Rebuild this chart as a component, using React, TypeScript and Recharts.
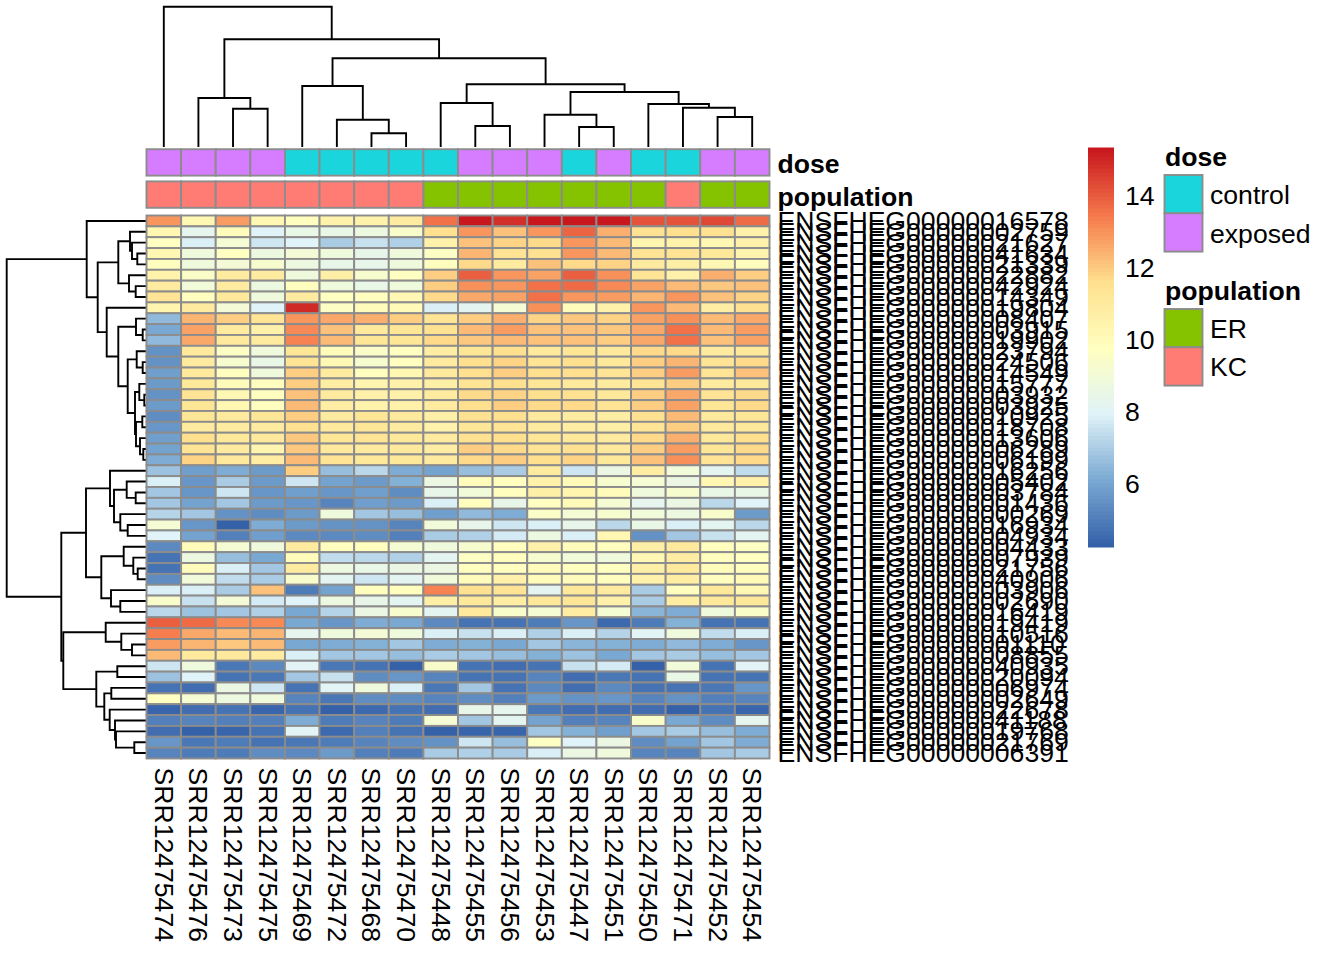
import React from "react";
import { ScatterChart, Scatter, XAxis, YAxis } from "recharts";

const W = 1344;
const H = 960;
const FONT = "'Liberation Sans', Arial, sans-serif";
const BORDER = "#8c8c8c";
const TEXT_SIZE = 26.6;

const samples = ["SRR12475474", "SRR12475476", "SRR12475473", "SRR12475475", "SRR12475469", "SRR12475472", "SRR12475468", "SRR12475470", "SRR12475448", "SRR12475455", "SRR12475456", "SRR12475453", "SRR12475447", "SRR12475451", "SRR12475450", "SRR12475471", "SRR12475452", "SRR12475454"];

const geneIds = ["16578", "02759", "21627", "41634", "21339", "22882", "42924", "14349", "19804", "08407", "03915", "19902", "23794", "24506", "14549", "15777", "03932", "03925", "10925", "18708", "13606", "06289", "06199", "16256", "05402", "03784", "01436", "00269", "16934", "04934", "04433", "07939", "21756", "40906", "03906", "02690", "16419", "19419", "10516", "01110", "08855", "40935", "20094", "06974", "02649", "22678", "41188", "19768", "21769", "06391"];

const expression = [
  [12.9, 10.3, 12.8, 10.3, 9.9, 10.5, 10.5, 10.9, 13.6, 15.3, 14.8, 15.3, 15.3, 15.3, 14.2, 14.2, 14.4, 13.7],
  [10.3, 8.3, 10.0, 8.0, 8.5, 8.5, 8.7, 9.4, 11.6, 12.9, 12.2, 13.0, 13.8, 12.5, 11.5, 11.6, 11.5, 10.6],
  [9.7, 7.9, 9.2, 7.6, 8.0, 7.0, 7.5, 7.1, 10.6, 12.2, 11.8, 11.7, 12.9, 12.3, 10.4, 10.5, 10.3, 10.6],
  [10.3, 8.9, 9.7, 8.7, 9.1, 8.8, 8.4, 8.9, 9.6, 12.4, 11.4, 11.5, 12.9, 12.3, 11.4, 11.4, 11.2, 10.4],
  [9.9, 8.8, 9.1, 9.3, 8.7, 8.4, 8.4, 8.8, 9.9, 11.7, 10.9, 12.2, 11.7, 11.8, 10.9, 10.7, 10.2, 9.8],
  [10.5, 9.5, 10.9, 10.9, 8.8, 10.7, 9.3, 9.7, 11.9, 13.9, 13.0, 12.7, 13.9, 13.1, 11.4, 10.6, 12.5, 12.0],
  [11.0, 9.0, 10.9, 8.7, 9.8, 8.9, 8.5, 8.9, 12.0, 13.1, 13.0, 13.6, 13.7, 13.2, 12.7, 12.3, 12.1, 12.2],
  [11.4, 9.8, 11.2, 8.9, 11.0, 9.7, 9.8, 10.2, 11.7, 12.6, 12.7, 13.6, 13.0, 12.8, 12.4, 13.0, 12.2, 11.8],
  [10.4, 11.0, 9.1, 8.0, 14.9, 9.6, 10.0, 10.1, 7.9, 8.2, 9.2, 13.1, 10.0, 10.6, 13.0, 12.3, 10.8, 11.5],
  [6.5, 12.4, 11.9, 11.4, 12.9, 12.6, 12.5, 11.9, 11.4, 12.0, 12.5, 11.8, 12.1, 11.8, 12.7, 13.1, 12.3, 12.6],
  [6.1, 12.7, 11.0, 10.6, 13.2, 12.2, 11.1, 11.3, 11.5, 12.3, 12.8, 12.2, 12.2, 12.1, 12.6, 13.6, 12.3, 12.8],
  [6.5, 12.6, 11.1, 10.9, 13.3, 12.3, 11.3, 11.3, 11.7, 12.1, 12.3, 12.2, 12.2, 12.0, 12.6, 13.6, 12.2, 12.7],
  [5.5, 11.1, 9.6, 8.9, 11.3, 10.0, 9.5, 9.7, 10.8, 11.3, 11.6, 11.1, 11.3, 11.1, 11.7, 11.7, 11.0, 11.2],
  [5.5, 11.0, 9.3, 8.5, 11.4, 10.2, 9.3, 9.8, 10.9, 11.6, 11.8, 11.4, 11.6, 11.2, 12.0, 12.4, 11.4, 11.7],
  [5.9, 11.1, 9.9, 8.9, 12.0, 10.9, 9.9, 10.3, 11.1, 11.6, 12.0, 11.6, 11.6, 11.4, 12.0, 12.8, 11.4, 12.2],
  [5.7, 11.2, 10.0, 9.8, 11.9, 10.8, 10.4, 10.6, 10.7, 11.4, 11.6, 11.3, 11.1, 11.0, 11.4, 12.0, 10.9, 11.2],
  [5.5, 11.4, 10.2, 9.9, 12.2, 11.0, 10.6, 10.6, 11.0, 11.7, 11.8, 11.6, 11.5, 11.2, 12.0, 12.6, 11.4, 11.7],
  [5.8, 11.3, 10.3, 9.9, 12.3, 10.8, 10.5, 10.6, 10.9, 11.6, 12.0, 11.7, 11.7, 11.4, 11.9, 12.7, 11.3, 11.7],
  [5.4, 11.3, 11.1, 11.3, 12.0, 11.0, 11.3, 11.1, 10.7, 11.5, 11.6, 11.1, 11.0, 10.8, 11.5, 12.3, 11.1, 11.3],
  [5.6, 11.0, 11.0, 11.0, 11.5, 11.1, 11.3, 11.0, 10.5, 11.3, 11.4, 11.0, 10.8, 10.7, 11.4, 12.0, 11.1, 11.2],
  [5.9, 11.6, 11.2, 11.1, 12.1, 11.3, 11.4, 11.2, 10.9, 11.5, 11.6, 11.3, 11.2, 11.0, 11.7, 12.5, 11.2, 11.6],
  [6.0, 11.4, 10.9, 10.4, 12.1, 11.1, 11.0, 11.1, 10.8, 12.0, 11.7, 11.4, 11.5, 11.1, 12.0, 12.8, 11.3, 11.7],
  [6.2, 11.8, 11.1, 10.8, 12.3, 11.4, 11.2, 11.2, 10.9, 11.7, 12.0, 11.6, 11.8, 11.2, 12.2, 13.1, 11.4, 11.7],
  [6.7, 5.9, 6.2, 5.7, 11.9, 6.6, 7.3, 6.2, 6.0, 6.6, 7.0, 11.0, 7.6, 8.6, 10.8, 9.0, 8.2, 7.4],
  [7.8, 5.6, 7.0, 5.8, 7.6, 6.0, 5.7, 6.3, 8.6, 10.0, 9.9, 10.6, 10.1, 9.3, 9.2, 8.6, 10.3, 10.6],
  [6.8, 5.6, 7.6, 5.6, 5.9, 5.6, 5.9, 5.4, 8.4, 9.0, 9.9, 10.7, 10.4, 10.0, 8.8, 9.3, 8.5, 8.5],
  [6.8, 6.0, 6.9, 5.7, 5.6, 5.2, 5.9, 5.7, 7.8, 9.9, 8.4, 9.7, 10.1, 9.2, 8.3, 8.6, 7.3, 8.0],
  [7.2, 6.8, 5.5, 5.4, 5.8, 8.9, 6.9, 6.6, 5.9, 6.5, 6.2, 9.5, 9.2, 9.3, 9.0, 8.7, 9.4, 5.8],
  [9.2, 5.6, 4.3, 6.2, 5.8, 5.5, 5.5, 5.2, 9.0, 8.4, 7.6, 7.8, 8.4, 7.3, 8.5, 7.8, 8.2, 7.3],
  [8.0, 6.0, 5.1, 5.9, 5.3, 5.3, 5.4, 5.1, 7.0, 7.1, 7.7, 8.7, 7.9, 10.3, 5.5, 6.9, 7.5, 8.2],
  [5.3, 10.0, 9.2, 8.9, 11.0, 9.9, 9.9, 9.2, 8.8, 9.3, 9.9, 10.6, 10.0, 9.8, 10.7, 11.1, 9.9, 9.6],
  [4.8, 8.7, 6.6, 6.1, 10.0, 7.4, 7.3, 7.1, 8.2, 9.6, 9.9, 9.3, 9.0, 8.9, 10.2, 10.8, 9.8, 9.7],
  [4.8, 10.0, 7.8, 6.9, 10.9, 8.7, 8.5, 8.6, 8.6, 9.8, 9.9, 10.0, 9.9, 9.7, 10.7, 11.1, 10.0, 9.9],
  [5.4, 9.0, 7.4, 7.0, 9.4, 8.2, 7.6, 8.2, 9.0, 10.0, 10.6, 10.0, 10.0, 9.8, 10.5, 10.8, 9.9, 10.1],
  [7.9, 7.9, 7.0, 12.2, 5.0, 6.0, 9.9, 9.8, 13.3, 11.5, 11.4, 8.2, 11.2, 10.9, 7.0, 9.9, 11.2, 10.2],
  [9.4, 7.5, 9.1, 7.7, 8.0, 8.7, 8.4, 8.2, 10.7, 11.2, 10.8, 11.2, 11.3, 10.6, 7.0, 10.8, 11.2, 11.2],
  [7.3, 6.7, 6.8, 7.1, 6.1, 7.2, 8.6, 9.3, 8.2, 11.1, 9.4, 9.2, 10.8, 9.2, 6.4, 6.2, 8.9, 9.5],
  [14.0, 13.7, 13.2, 13.2, 6.1, 5.6, 6.2, 6.1, 5.3, 4.8, 4.7, 5.0, 5.6, 4.5, 5.0, 6.3, 4.7, 4.8],
  [13.4, 12.6, 12.3, 12.4, 8.3, 8.9, 9.1, 8.8, 7.9, 7.5, 7.8, 7.1, 7.9, 7.2, 8.1, 8.8, 7.4, 7.9],
  [12.8, 12.4, 12.1, 12.3, 6.1, 6.2, 6.3, 6.9, 6.2, 6.3, 6.1, 6.8, 6.4, 6.3, 6.2, 6.5, 6.2, 5.6],
  [12.3, 11.1, 11.1, 11.0, 7.9, 6.9, 6.8, 6.6, 7.0, 6.8, 6.6, 6.3, 6.7, 6.1, 6.8, 7.0, 6.6, 6.8],
  [7.6, 8.9, 4.9, 5.3, 8.1, 4.9, 4.8, 4.3, 9.4, 4.7, 4.6, 4.8, 7.5, 7.7, 4.3, 9.0, 4.7, 8.1],
  [6.7, 8.0, 4.8, 4.9, 6.9, 7.5, 5.4, 5.6, 5.2, 4.8, 4.7, 5.2, 4.6, 4.9, 4.7, 8.5, 4.8, 4.7],
  [4.7, 4.6, 8.6, 7.6, 4.7, 8.1, 8.9, 7.9, 4.9, 6.8, 4.7, 5.3, 4.6, 5.3, 4.7, 4.7, 4.9, 5.6],
  [9.7, 9.2, 8.7, 8.9, 5.2, 4.9, 5.4, 5.4, 5.2, 5.4, 5.1, 5.8, 5.5, 5.6, 5.2, 5.5, 5.1, 5.2],
  [4.4, 4.6, 4.7, 4.4, 4.7, 4.35, 4.55, 4.7, 4.6, 8.4, 8.3, 4.9, 4.65, 4.6, 4.6, 4.35, 4.7, 4.4],
  [5.1, 5.2, 5.1, 5.1, 6.2, 5.0, 5.2, 5.0, 9.2, 6.9, 8.2, 6.0, 5.1, 5.2, 9.4, 6.1, 5.4, 8.3],
  [4.6, 4.35, 4.4, 4.8, 8.1, 4.5, 5.1, 4.7, 4.35, 4.4, 4.4, 6.8, 6.3, 5.9, 6.8, 7.0, 6.6, 6.2],
  [5.6, 4.9, 5.0, 4.8, 4.9, 5.0, 5.2, 5.4, 5.5, 7.6, 6.6, 9.6, 8.0, 8.6, 5.4, 6.0, 6.8, 6.2],
  [5.2, 5.0, 5.0, 5.4, 5.3, 5.7, 5.1, 5.0, 7.0, 7.1, 7.0, 7.9, 8.6, 8.8, 5.2, 5.2, 6.9, 7.0],
];

const doseBySample = ["exposed", "exposed", "exposed", "exposed", "control", "control", "control", "control", "control", "exposed", "exposed", "exposed", "control", "exposed", "control", "control", "exposed", "exposed"];
const populationBySample = ["KC", "KC", "KC", "KC", "KC", "KC", "KC", "KC", "ER", "ER", "ER", "ER", "ER", "ER", "ER", "KC", "ER", "ER"];

const annotationColors: Record<string, string> = { control: "#1BD5DC", exposed: "#D67CFF", ER: "#85C200", KC: "#FF7C75" };

// hclust style merges: [left, right, height], negative = earlier merge (1-based)
const columnMerges = [
  [2, 3, 38.3], [1, -1, 49], [6, 7, 13.7], [5, -3, 27.3], [4, -4, 61],
  [9, 10, 21], [8, -6, 44], [12, 13, 20], [11, -8, 32.3], [16, 17, 30],
  [15, -10, 39.3], [14, -11, 43], [-9, -12, 55], [-7, -13, 62.7], [-5, -14, 88.7],
  [-2, -15, 107.7], [0, -16, 140.3],
];

const rowMerges = [
  [3, 4, 8.7], [2, -1, 14], [1, -2, 16], [6, 7, 10.3], [5, -4, 17],
  [-3, -5, 27.7], [10, 11, 3.3], [9, -7, 10], [13, 14, 3.3], [12, -9, 9.3],
  [16, 17, 1.7], [15, -11, 6.7], [18, 19, 3.7], [21, 22, 2.7], [20, -14, 6],
  [-13, -15, 10], [-12, -16, 11], [-10, -17, 18.3], [-8, -18, 27.7], [8, -19, 39.3],
  [-6, -20, 48.3], [0, -21, 59.3], [25, 26, 10.3], [24, -23, 19.3], [28, 29, 18.3],
  [27, -25, 25.7], [-24, -26, 32], [23, -27, 36], [32, 33, 8.3], [31, -29, 12.7],
  [30, -30, 22.3], [35, 36, 25.7], [34, -32, 35], [-31, -33, 44.7], [-28, -34, 60],
  [39, 40, 14], [38, -36, 24.7], [37, -37, 40.3], [41, 42, 28.7], [43, 44, 34.7],
  [48, 49, 11.7], [47, -41, 30], [46, -42, 31], [45, -43, 36.3], [-40, -44, 41.7],
  [-39, -45, 49.7], [-38, -46, 82.7], [-35, -47, 84.7], [-22, -48, 139.3],
];

const colorTicks = [6, 8, 10, 12, 14];
const colorMin = 4.25;
const colorMax = 15.33;
const rampNodes = ["#3561A9", "#7BAAD3", "#E0F3F8", "#FFFFBF", "#FEE08E", "#F67A4C", "#C8181E"];

const heat = { left: 146.5, right: 769.5, top: 215.5, bottom: 758.5 };
const cellW = (heat.right - heat.left) / samples.length;
const cellH = (heat.bottom - heat.top) / geneIds.length;

const hex = (c: string) => [1, 3, 5].map((i) => parseInt(c.slice(i, i + 2), 16));
const ramp = Array.from({ length: 100 }, (_, i) => {
  const t = (i / 99) * (rampNodes.length - 1);
  const k = Math.min(Math.floor(t), rampNodes.length - 2);
  const a = hex(rampNodes[k]);
  const b = hex(rampNodes[k + 1]);
  const rgb = a.map((v, j) => Math.round(v + (b[j] - v) * (t - k)));
  return `rgb(${rgb.join(",")})`;
});
const colorFor = (v: number) => {
  const i = Math.floor(((v - colorMin) / (colorMax - colorMin)) * 100);
  return ramp[Math.max(0, Math.min(99, i))];
};

const heatCells = expression.flatMap((row, r) => row.map((value, c) => ({ col: c + 0.5, row: r + 0.5, value })));
const doseCells = doseBySample.map((d, c) => ({ col: c + 0.5, row: 0.5, level: d }));
const populationCells = populationBySample.map((d, c) => ({ col: c + 0.5, row: 1.7, level: d }));
const rampCells = ramp.map((fill, i) => ({ x: 0.5, y: colorMin + ((i + 0.5) / 100) * (colorMax - colorMin), fill }));

const dendroPaths = (merges: number[][]) => {
  const nodes: { pos: number; height: number }[] = [];
  const get = (ref: number) => (ref < 0 ? nodes[-ref - 1] : { pos: ref + 0.5, height: 0 });
  return merges.map(([a, b, height]) => {
    const l = get(a);
    const r = get(b);
    nodes.push({ pos: (l.pos + r.pos) / 2, height });
    return [l, { pos: l.pos, height }, { pos: r.pos, height }, r];
  });
};

const frame = (left: number, top: number, right: number, bottom: number) => ({
  left,
  top,
  right: W - right,
  bottom: H - bottom,
});

const NoPoint = () => <g />;
const layer: React.CSSProperties = { position: "absolute", left: 0, top: 0 };

const HeatCell = (p: any) => (
  <rect x={p.cx - cellW / 2} y={p.cy - cellH / 2} width={cellW} height={cellH} fill={colorFor(p.payload.value)} stroke={BORDER} strokeWidth={1.9} />
);

const TrackCell = (p: any) => (
  <rect x={p.cx - cellW / 2} y={p.cy - 13.2} width={cellW} height={26.4} fill={annotationColors[p.payload.level]} stroke={BORDER} strokeWidth={1.9} />
);

const RampCell = (p: any) => (
  <rect x={p.cx - 13} y={p.cy - 2.5} width={26} height={5} fill={p.payload.fill} />
);

const SampleTick = (p: any) => {
  const x = p.x;
  const y = p.y + 9;
  return (
    <text x={x} y={y} transform={`rotate(90 ${x} ${y})`} dominantBaseline="central" fontSize={TEXT_SIZE} fontFamily={FONT} fill="#000">
      {samples[Math.floor(p.payload.value)]}
    </text>
  );
};

const GeneTick = (p: any) => (
  <text x={p.x + 8} y={p.y} dominantBaseline="central" fontSize={TEXT_SIZE} fontFamily={FONT} fill="#000">
    {"ENSFHEG000000" + geneIds[Math.floor(p.payload.value)]}
  </text>
);

const TrackTick = (p: any) => (
  <text x={p.x + 8} y={p.y + 2} dominantBaseline="central" fontSize={TEXT_SIZE} fontWeight="bold" fontFamily={FONT} fill="#000">
    {p.payload.value < 1 ? "dose" : "population"}
  </text>
);

const RampTick = (p: any) => (
  <text x={p.x + 3} y={p.y} dominantBaseline="central" fontSize={TEXT_SIZE} fontFamily={FONT} fill="#000">
    {p.payload.value}
  </text>
);

const columnTicks = samples.map((_, i) => i + 0.5);
const rowTicks = geneIds.map((_, i) => i + 0.5);

const Legend = () => {
  const swatch = (y: number, key: string) => (
    <rect x={1164.5} y={y} width={38} height={38.3} fill={annotationColors[key]} stroke={BORDER} strokeWidth={1.9} />
  );
  const label = (y: number, text: string, bold = false) => (
    <text x={bold ? 1165 : 1210} y={y} dominantBaseline="central" fontSize={TEXT_SIZE} fontWeight={bold ? "bold" : "normal"} fontFamily={FONT} fill="#000">
      {text}
    </text>
  );
  return (
    <svg width={W} height={H} style={layer}>
      {label(157, "dose", true)}
      {swatch(175, "control")}
      {swatch(213.3, "exposed")}
      {label(195, "control")}
      {label(234, "exposed")}
      {label(291, "population", true)}
      {swatch(309, "ER")}
      {swatch(347.3, "KC")}
      {label(329, "ER")}
      {label(367, "KC")}
    </svg>
  );
};

export default function App() {
  return (
    <div style={{ position: "absolute", left: 0, top: 0, width: W, height: H, background: "#fff" }}>
      {/* column dendrogram */}
      <div style={layer}>
        <ScatterChart width={W} height={H} margin={frame(heat.left, 0, heat.right, 147)}>
          <XAxis type="number" dataKey="pos" domain={[0, samples.length]} hide />
          <YAxis type="number" dataKey="height" domain={[0, 147]} hide />
          {dendroPaths(columnMerges).map((pts, i) => (
            <Scatter key={i} data={pts} line={{ stroke: "#000", strokeWidth: 1.9, fill: "none" }} shape={NoPoint} isAnimationActive={false} />
          ))}
        </ScatterChart>
      </div>

      {/* row dendrogram */}
      <div style={layer}>
        <ScatterChart width={W} height={H} margin={frame(0, heat.top, 146, heat.bottom)}>
          <XAxis type="number" dataKey="height" domain={[0, 146]} reversed hide />
          <YAxis type="number" dataKey="pos" domain={[0, geneIds.length]} reversed hide />
          {dendroPaths(rowMerges).map((pts, i) => (
            <Scatter key={i} data={pts} line={{ stroke: "#000", strokeWidth: 1.9, fill: "none" }} shape={NoPoint} isAnimationActive={false} />
          ))}
        </ScatterChart>
      </div>

      {/* annotation tracks */}
      <div style={layer}>
        <ScatterChart width={W} height={H} margin={{ ...frame(heat.left, 149, heat.right, 208), right: W - heat.right - 300 }}>
          <XAxis type="number" dataKey="col" domain={[0, samples.length]} hide />
          <YAxis type="number" dataKey="row" domain={[0, 2.2]} reversed orientation="right" width={300} ticks={[0.5, 1.7]} interval={0} tick={<TrackTick />} tickLine={false} axisLine={false} tickSize={0} tickMargin={0} />
          <Scatter data={doseCells} shape={TrackCell} isAnimationActive={false} />
          <Scatter data={populationCells} shape={TrackCell} isAnimationActive={false} />
        </ScatterChart>
      </div>

      {/* heatmap */}
      <div style={layer}>
        <ScatterChart width={W} height={H} margin={{ ...frame(heat.left, heat.top, heat.right, heat.bottom), right: W - heat.right - 300, bottom: H - heat.bottom - 190 }}>
          <XAxis type="number" dataKey="col" domain={[0, samples.length]} ticks={columnTicks} interval={0} height={190} tick={<SampleTick />} tickLine={false} axisLine={false} tickSize={0} tickMargin={0} />
          <YAxis type="number" dataKey="row" domain={[0, geneIds.length]} reversed orientation="right" width={300} ticks={rowTicks} interval={0} tick={<GeneTick />} tickLine={false} axisLine={false} tickSize={0} tickMargin={0} />
          <Scatter data={heatCells} shape={HeatCell} isAnimationActive={false} />
        </ScatterChart>
      </div>

      {/* colour key */}
      <div style={layer}>
        <ScatterChart width={W} height={H} margin={{ ...frame(1088, 148, 1114, 547), right: W - 1114 - 60 }}>
          <XAxis type="number" dataKey="x" domain={[0, 1]} hide />
          <YAxis type="number" dataKey="y" domain={[colorMin, colorMax]} orientation="right" width={60} ticks={colorTicks} interval={0} tick={<RampTick />} tickLine={false} axisLine={false} />
          <Scatter data={rampCells} shape={RampCell} isAnimationActive={false} />
        </ScatterChart>
      </div>

      <Legend />
    </div>
  );
}
